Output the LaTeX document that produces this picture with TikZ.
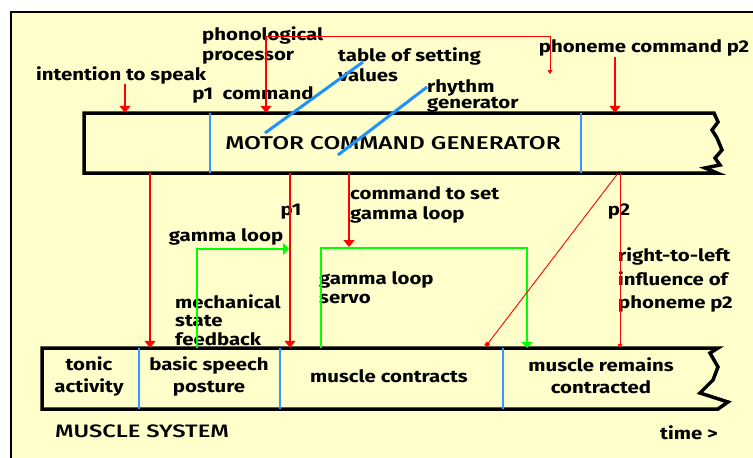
\documentclass[tikz,border=0pt]{standalone}
\usepackage{fontspec}
\setmainfont[FakeStretch=1.2]{Fira Sans}
\newfontfamily\capsfont[FakeStretch=1.32]{Fira Sans Medium}
\usetikzlibrary{arrows.meta}
\definecolor{paper}{HTML}{FFFFCC}
\definecolor{linkblue}{HTML}{1E90FF}
\definecolor{divblue}{HTML}{3399FF}
\definecolor{loopgreen}{HTML}{00FF00}

\begin{document}
\begin{tikzpicture}[x=1pt,y=-1pt,
    lbl/.style={font=\bfseries\fontsize{17}{20}\selectfont, inner sep=0pt, align=left},
    sect/.style={font=\bfseries\fontsize{17}{22}\selectfont, inner sep=0pt, align=center},
    box/.style={draw=black, line width=3.5pt, line join=miter},
    cmdarrow/.style={red, line width=2.5pt, -{Triangle[width=11pt,length=7pt]}},
    thinred/.style={red, line width=0.9pt, -{Triangle[width=5pt,length=4pt]}},
    loop/.style={loopgreen, line width=2.5pt, -{Triangle[width=12pt,length=6pt]}},
    divider/.style={divblue, line width=1.2pt},
    link/.style={linkblue, line width=3pt}]
    \useasboundingbox (0,0) rectangle (753,458);
    \clip (0,0) rectangle (753,458);
    \fill[white] (0,0) rectangle (753,458);
    \draw[fill=paper, line width=1.2pt] (11,12) rectangle (770,470);

    % motor command generator
    \node (mcg) at (401.5,143) [minimum width=635pt, minimum height=60pt, inner sep=0pt] {};
    \draw[box] (84,113) -- (714,113) -- (718,122) -- (712,130) -- (717,138) -- (722,150)
        -- (715,158) -- (720,165) -- (705,168) -- (717,173) -- (84,173) -- cycle;
    \draw[divider] (210,0 |- mcg.north) -- (210,0 |- mcg.south);
    \draw[divider] (581,0 |- mcg.north) -- (581,0 |- mcg.south);
    \node (mcgtext) at (393,143) [inner sep=0pt, font=\capsfont\fontsize{18.5}{20}\selectfont] {MOTOR COMMAND GENERATOR};

    % muscle system
    \node (ms) at (380,378.5) [minimum width=676pt, minimum height=61pt, inner sep=0pt] {};
    \draw[box] (42,348) -- (718,348) -- (710,353) -- (718,367) -- (713,380) -- (700,393)
        -- (728,402) -- (718,409) -- (42,409) -- cycle;
    \foreach \x in {139,280,503}
        \draw[divider] (\x,0 |- ms.north) -- (\x,0 |- ms.south);
    \node (tonic) at (89,376) [sect] {tonic\\activity};
    \node (posture) at (209,376) [sect] {basic speech\\posture};
    \node (contracts) at (389,376) [sect] {muscle contracts};
    \node (remains) at (601,376) [sect] {muscle remains\\contracted};
    \node (system) at (142,431) [inner sep=0pt, font=\capsfont\fontsize{18}{20}\selectfont] {MUSCLE SYSTEM};
    \node (time) at (689,433) [lbl] {time \textgreater};

    % labels
    \node (intent) at (121,75) [lbl] {intention to speak};
    \node (phonol) at (202,45) [lbl, anchor=west] {phonological\\processor};
    \node (p1cmd) at (253,95) [lbl] {p1\ \ command};
    \node (table) at (338,65) [lbl, anchor=west] {table of setting\\values};
    \node (rhythm) at (427,96) [lbl, anchor=west, font=\bfseries\fontsize{17}{16}\selectfont] {rhythm\\generator};
    \node (phoneme) at (644,48) [lbl] {phoneme command p2};
    \node (p1) at (291,212) [lbl] {p1};
    \node (cmdset) at (350,205) [lbl, anchor=west] {command to set\\gamma loop};
    \node (gamma) at (226,237) [lbl] {gamma loop};
    \node (servo) at (319,288) [lbl, anchor=west, font=\bfseries\fontsize{17}{19}\selectfont] {gamma loop\\servo};
    \node (mech) at (175,320) [lbl, anchor=west, font=\bfseries\fontsize{17}{18.5}\selectfont] {mechanical\\state\\feedback};
    \node (p2) at (619,212) [lbl] {p2};
    \node (rtl) at (618,280) [lbl, anchor=west, font=\bfseries\fontsize{17}{23.5}\selectfont] {right-to-left\\influence of\\phoneme p2};

    % inputs to the generator
    \coordinate (pp) at (266,36);
    \coordinate (settingdrop) at (550,74);
    \draw[cmdarrow] (intent.south -| 125,0) -- (125,0 |- mcg.north);
    \draw[cmdarrow] (pp) -- (pp |- mcg.north);
    \draw[thinred] (pp) -| (settingdrop);
    \draw[cmdarrow] (phoneme.south -| 615,0) -- (615,0 |- mcg.north);
    \draw[link] (265,133) -- (363,62);
    \draw[link] (338,155) -- (427,87);

    % generator to muscles
    \draw[cmdarrow] (150,0 |- mcg.south) -- (150,0 |- ms.north);
    \draw[cmdarrow] (290,0 |- mcg.south) -- (290,0 |- ms.north);
    \draw[cmdarrow] (349,0 |- mcg.south) -- (349,247);
    \draw[loop] (197,0 |- ms.north) |- (289,249);
    \draw[loop] (321,0 |- ms.north) |- (527,248) -- (527,0 |- ms.north);
    \draw[red, line width=0.9pt, -{Square[length=4pt,width=4pt]}] (618,0 |- mcg.south) -- (486,346);
    \draw[thinred] (620,0 |- mcg.south) -- (620,0 |- ms.north);
\end{tikzpicture}
\end{document}
